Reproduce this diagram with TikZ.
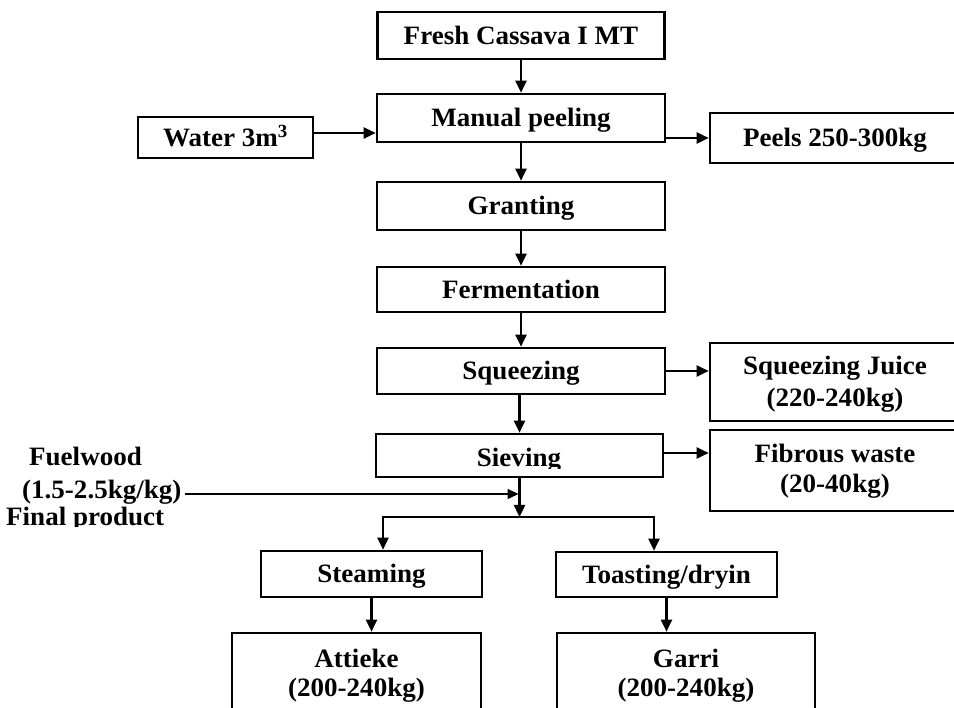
\documentclass[tikz,border=0pt]{standalone}
\usepackage{fontspec}
\setmainfont{Liberation Serif}[FakeStretch=1.02]
\usetikzlibrary{arrows.meta,calc}

\begin{document}
\begin{tikzpicture}[x=1pt,y=-1pt,
  every node/.style={font=\fontsize{26.5}{30}\selectfont\bfseries, inner sep=0pt},
  box/.style={draw, line width=2.6pt, text height=17.5pt, text depth=0pt},
  lbl/.style={align=center},
  arr/.style={line width=2.4pt, -{Triangle[length=12pt,width=11pt]}},
  thinarr/.style={line width=1.5pt, -{Triangle[length=11pt,width=10pt]}}]

% page
\fill[white] (0,0) rectangle (954,708);
\useasboundingbox (0,0) rectangle (954,708);

% main processing line
\node[box, minimum width=287pt, minimum height=47pt] (fresh) at (521,35.5) {Fresh Cassava I MT};
\node[box, minimum width=288pt, minimum height=48pt] (peel) at (521,118) {Manual peeling};
\node[box, minimum width=175pt, minimum height=41pt] (water) at (225.5,137.5) {Water 3m\textsuperscript{3}};
\node[box, minimum width=250pt, minimum height=50pt] (peels) at (835,138) {Peels 250-300kg};
\node[box, minimum width=288pt, minimum height=48pt] (grate) at (521,206) {Granting};
\node[box, minimum width=288pt, minimum height=45pt] (ferment) at (521,289.5) {Fermentation};
\node[box, minimum width=288pt, minimum height=46pt] (squeeze) at (521,371) {Squeezing};

% by-products (base anchor = last line)
\node[box, minimum width=250pt, minimum height=78pt] (juice) at (835,382) {};
\node[lbl, anchor=base] (juicetxt) at (835,407) {Squeezing Juice\\[2pt](220-240kg)};
\node[box, minimum width=287pt, minimum height=43pt] (sieve) at (519.5,455.5) {};
\begin{scope}
  \clip (380,440) rectangle (660,469);
  \node[anchor=base] (sievetxt) at (519,467) {Sieving};
\end{scope}
\node[box, minimum width=250pt, minimum height=81pt] (fibre) at (835,470.5) {};
\node[lbl, anchor=base] (fibretxt) at (835,493) {Fibrous waste\\(20-40kg)};

% fuel input
\node[anchor=base west] (fuel) at (29,466) {Fuelwood};
\node[anchor=base west] (fuelrate) at (22,499) {(1.5-2.5kg/kg)};
\begin{scope}
  \clip (0,505) rectangle (200,527);
  \node[anchor=base west] (final) at (6,526) {Final product};
\end{scope}

% branch points
\coordinate (br) at (519.5,517);
\coordinate (bl) at (383,517);
\coordinate (brr) at (654,517);
\coordinate (fe) at (518.5,494);

% final products
\node[box, minimum width=221pt, minimum height=46pt] (steam) at (371.5,574) {Steaming};
\node[box, minimum width=221pt, minimum height=45pt] (toast) at (666.5,574.5) {Toasting/dryin};
\node[box, minimum width=249pt, minimum height=87pt] (attieke) at (356.5,676.5) {};
\node[lbl, anchor=base] (attieketxt) at (356.5,696) {Attieke\\[-1pt](200-240kg)};
\node[box, minimum width=258pt, minimum height=87pt] (garri) at (686,676.5) {};
\node[lbl, anchor=base] (garritxt) at (686,696) {Garri\\[-1pt](200-240kg)};

% connectors
\draw[arr] (fresh) -- (peel);
\coordinate (win) at ([yshift=4.5pt]water.east);
\draw[arr] (win) -- (win -| peel.west);
\draw[arr] (peels.west -| peel.east) -- (peels.west);
\draw[arr] (peel) -- (grate);
\draw[arr] (grate) -- (ferment);
\draw[arr] (ferment) -- (squeeze);
\draw[arr] (squeeze.east) -- (squeeze.east -| juice.west);
\draw[arr] (squeeze.south -| sieve.north) -- (sieve.north);
\coordinate (sout) at ([yshift=2.5pt]sieve.east);
\draw[arr] (sout) -- (sout -| fibre.west);
\draw[arr] (sieve.south) -- (br);
\draw[thinarr, shorten <=3pt] (fuelrate.east |- fe) -- (fe);
\draw[arr] (br) -| (bl |- steam.north);
\draw[arr] (br) -| (brr |- toast.north);
\draw[arr] (steam.south) -- (steam.south |- attieke.north);
\draw[arr] (toast.south) -- (toast.south |- garri.north);
\end{tikzpicture}
\end{document}
